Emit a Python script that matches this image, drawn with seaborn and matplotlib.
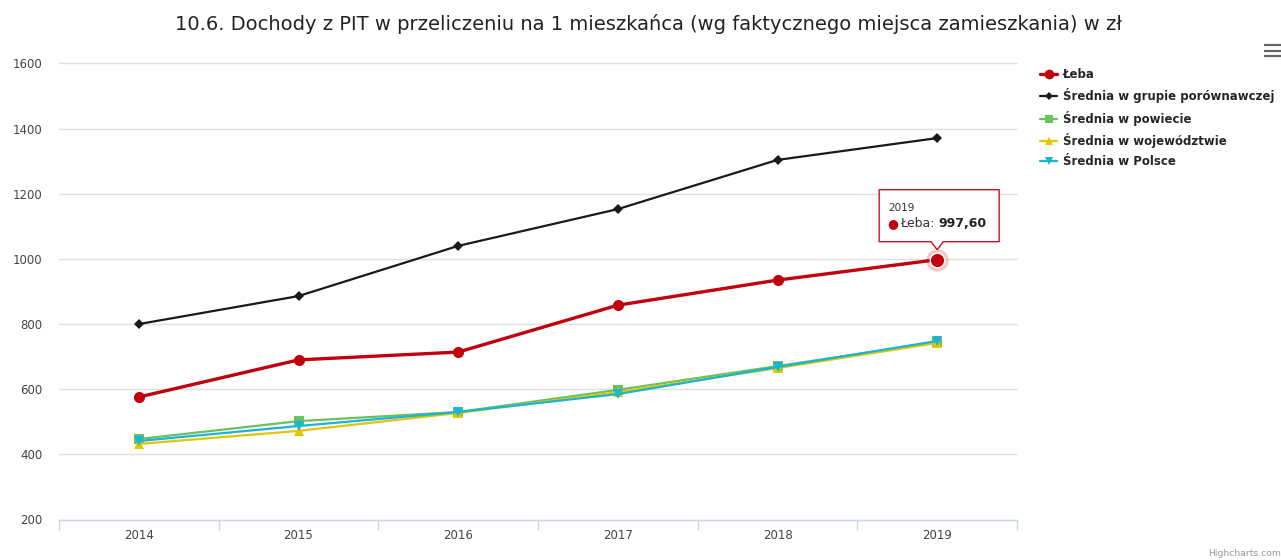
import matplotlib
matplotlib.use("Agg")
import matplotlib.pyplot as plt
import matplotlib.patches as mpatches
from matplotlib.lines import Line2D
import seaborn as sns
import pandas as pd

# --- data ---------------------------------------------------------------
years = ["2014", "2015", "2016", "2017", "2018", "2019"]
leba = [576.0, 690.0, 714.0, 858.0, 935.0, 997.6]
grupa = [800.0, 886.0, 1040.0, 1153.0, 1304.0, 1371.0]
powiat = [447.0, 502.0, 530.0, 598.0, 671.0, 745.0]
wojewodztwo = [432.0, 472.0, 527.0, 591.0, 665.0, 742.0]
polska = [441.0, 487.0, 530.0, 585.0, 668.0, 748.0]

series_names = [
    "Łeba",
    "Średnia w grupie porównawczej",
    "Średnia w powiecie",
    "Średnia w województwie",
    "Średnia w Polsce",
]
series_values = [leba, grupa, powiat, wojewodztwo, polska]

title = "10.6. Dochody z PIT w przeliczeniu na 1 mieszkańca (wg faktycznego miejsca zamieszkania) w zł"
y_ticks = [200, 400, 600, 800, 1000, 1200, 1400, 1600]

# --- styling ------------------------------------------------------------
colors = ["#c0000c", "#1a1a1a", "#6cc060", "#e2c600", "#1ab4d6"]
markers = ["o", "D", "s", "^", "v"]
marker_sizes = [8, 5, 7, 7, 7]
line_widths = [2.4, 1.6, 1.6, 1.6, 1.6]

sns.set_theme(style="white")
plt.rcParams["font.family"] = ["DejaVu Sans"]

W, H = 1281, 560
fig = plt.figure(figsize=(W / 100, H / 100), dpi=100)
ax = fig.add_axes([59 / W, 1 - 519.5 / H, (1017 - 59) / W, (519.5 - 63.5) / H])

frames = []
for name, vals in zip(series_names, series_values):
    frames.append(pd.DataFrame({"rok": years, "wartosc": vals, "seria": name}))
df = pd.concat(frames, ignore_index=True)
df["x"] = df["rok"].map({y: i for i, y in enumerate(years)})

for i, name in enumerate(series_names):
    sub = df[df["seria"] == name]
    sns.lineplot(
        data=sub, x="x", y="wartosc", ax=ax, color=colors[i],
        marker=markers[i], markersize=marker_sizes[i], markeredgewidth=0,
        linewidth=line_widths[i], label=name, legend=False, zorder=3 + i,
        errorbar=None,
    )

ax.set_xlim(-0.5, len(years) - 0.5)
ax.set_ylim(200, 1600)
ax.set_yticks(y_ticks)
ax.set_yticklabels([str(t) for t in y_ticks], color="#444444", fontsize=8.5)
ax.set_xticks(range(len(years)))
ax.set_xticklabels(years, color="#444444", fontsize=8.5)
ax.tick_params(axis="x", which="major", length=0, pad=7)
ax.tick_params(axis="y", length=0, pad=12)
# category boundary ticks
ax.set_xticks([i - 0.5 for i in range(len(years) + 1)], minor=True)
ax.tick_params(axis="x", which="minor", bottom=True, length=7.5, width=1,
               color="#ccd6eb", direction="out")
ax.set_xlabel("")
ax.set_ylabel("")
ax.grid(axis="y", color="#e0e0e0", linewidth=1)
ax.grid(axis="x", visible=False)
for gl in ax.get_ygridlines():
    gl.set_clip_on(False)
for side in ["top", "right", "left"]:
    ax.spines[side].set_visible(False)
ax.spines["bottom"].set_color("#ccd6eb")
ax.spines["bottom"].set_linewidth(1)
ax.set_axisbelow(True)

fig.text(648 / W, 1 - 24 / H, title, ha="center", va="center", fontsize=14, color="#222222")

# legend
handles = [
    Line2D([0], [0], color=colors[i], marker=markers[i], markersize=marker_sizes[i] - 1,
           markeredgewidth=0, linewidth=line_widths[i])
    for i in range(len(series_names))
]
fig.legend(handles, series_names, loc="upper left", bbox_to_anchor=(1040 / W, 1 - 68 / H),
           frameon=False, prop={"weight": "bold", "size": 8.5}, handlelength=1.45,
           handletextpad=0.5, labelspacing=0.62, borderaxespad=0, borderpad=0)

# hover state on the last Łeba point with tooltip
fig.canvas.draw()
last = len(years) - 1
px, py = ax.transData.transform((last, leba[last]))
ax.scatter([last], [leba[last]], s=260, color=colors[0], alpha=0.22, linewidths=0, zorder=10)
ax.scatter([last], [leba[last]], s=110, color=colors[0], edgecolors="white", linewidths=1.0, zorder=11)

left, right, top, bottom, tip = px - 58, px + 62, py + 70, py + 18, py + 10
poly = [
    (left, bottom), (px - 6, bottom), (px, tip), (px + 6, bottom), (right, bottom),
    (right, top), (left, top),
]
tooltip = mpatches.Polygon(poly, closed=True, transform=None, facecolor="white",
                           edgecolor=colors[0], linewidth=1, alpha=0.92, zorder=20)
fig.add_artist(tooltip)
fig.text((left + 9) / W, (top - 18) / H, "2019", fontsize=7.5, color="#333333",
         ha="left", va="center", zorder=21)
fig.text((left + 8) / W, (top - 34) / H, "●", fontsize=9, color=colors[0],
         ha="left", va="center", zorder=21)
val_text = f"{leba[last]:.2f}".replace(".", ",")
t1 = fig.text((left + 21) / W, (top - 34) / H, "Łeba: ", fontsize=9, color="#333333",
              ha="left", va="center", zorder=21)
fig.canvas.draw()
bb = t1.get_window_extent()
fig.text(bb.x1 / W, (top - 34) / H, val_text, fontsize=9, color="#222222",
         fontweight="bold", ha="left", va="center", zorder=21)

# export menu icon
for yy in (45, 50.7, 56.3):
    fig.add_artist(Line2D([1264 / W, 1281 / W], [1 - yy / H, 1 - yy / H],
                          color="#666666", linewidth=1.6, solid_capstyle="butt"))

fig.text(1208 / W, 1 - 553 / H, "Highcharts.com", fontsize=6.7, color="#999999",
         ha="left", va="center")

fig.savefig("out.png", dpi=100)
